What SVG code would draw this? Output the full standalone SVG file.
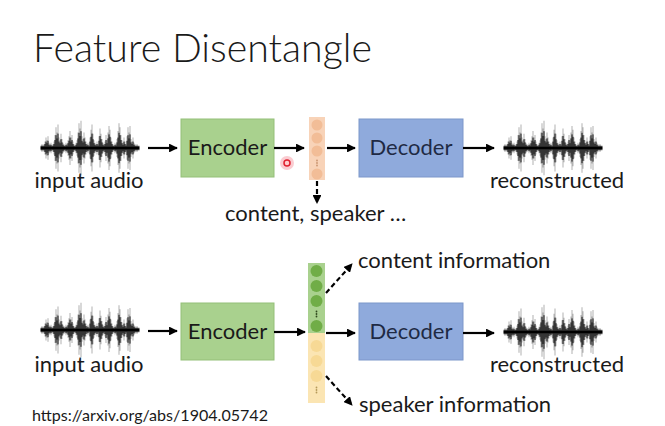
<svg xmlns="http://www.w3.org/2000/svg" xmlns:xlink="http://www.w3.org/1999/xlink" width="665" height="426" viewBox="0 0 665 426">
<style>
text{font-family:Lato,"Open Sans","Liberation Sans",sans-serif;fill:#1a1a1a}
.lbl{font-size:22px}
.title{font-size:40px;font-weight:300}
.enc rect{fill:#a9d18e;stroke:#94bf79;stroke-width:1}
.dec rect{fill:#8faadc;stroke:#7d97ca;stroke-width:1}
.dec text{fill:#1f2a44}
.ln{stroke:#000;stroke-width:2.2;fill:none}
.dash{stroke:#000;stroke-width:2.2;fill:none;stroke-dasharray:5 3}
</style>
<defs>
<marker id="ah" viewBox="0 0 10 10" refX="9" refY="5" markerWidth="4" markerHeight="4" orient="auto" markerUnits="strokeWidth">
<path d="M0,0L10,5L0,10z" fill="#000"/>
</marker>
<g id="wave">
<path d="M0-2v4M1-3v6M2-2v4M3-3v6M4-5v10M5-8v16M6-6v12M7-9v18M8-4v8M9-3v6M10-4v8M11-2v4M12-3v6M13-5v10M14-10v20M15-16v32M16-12v24M17-18v36M18-8v16M19-6v12M20-11v22M21-7v14M22-4v8M23-3v6M24-2v4M25-4v8M26-3v6M27-6v12M28-9v18M29-13v26M30-8v16M31-10v20M32-5v10M33-3v6M34-2v4M35-4v8M36-6v12M37-12v24M38-19v38M39-15v30M40-21v42M41-9v18M42-7v14M43-12v24M44-8v16M45-5v10M46-3v6M47-4v8M48-2v4M49-8v16M50-14v28M51-18v36M52-11v22M53-6v12M54-4v8M55-3v6M56-5v10M57-3v6M58-9v18M59-15v30M60-11v22M61-7v14M62-4v8M63-3v6M64-5v10M65-10v20M66-6v12M67-12v24M68-17v34M69-14v28M70-8v16M71-5v10M72-3v6M73-2v4M74-4v8M75-3v6M76-7v14M77-13v26M78-19v38M79-16v32M80-10v20M81-6v12M82-4v8M83-8v16M84-5v10M85-3v6M86-9v18M87-16v32M88-12v24M89-17v34M90-7v14M91-5v10M92-8v16M93-4v8M94-3v6M95-2v4M96-3v6M97-2v4M98-2v4" stroke="#000" stroke-width="1" transform="scale(1,1.3)" opacity="0.3"/>
<path d="M0-2v4M1-3v6M2-2v4M3-3v6M4-5v10M5-8v16M6-6v12M7-9v18M8-4v8M9-3v6M10-4v8M11-2v4M12-3v6M13-5v10M14-10v20M15-16v32M16-12v24M17-18v36M18-8v16M19-6v12M20-11v22M21-7v14M22-4v8M23-3v6M24-2v4M25-4v8M26-3v6M27-6v12M28-9v18M29-13v26M30-8v16M31-10v20M32-5v10M33-3v6M34-2v4M35-4v8M36-6v12M37-12v24M38-19v38M39-15v30M40-21v42M41-9v18M42-7v14M43-12v24M44-8v16M45-5v10M46-3v6M47-4v8M48-2v4M49-8v16M50-14v28M51-18v36M52-11v22M53-6v12M54-4v8M55-3v6M56-5v10M57-3v6M58-9v18M59-15v30M60-11v22M61-7v14M62-4v8M63-3v6M64-5v10M65-10v20M66-6v12M67-12v24M68-17v34M69-14v28M70-8v16M71-5v10M72-3v6M73-2v4M74-4v8M75-3v6M76-7v14M77-13v26M78-19v38M79-16v32M80-10v20M81-6v12M82-4v8M83-8v16M84-5v10M85-3v6M86-9v18M87-16v32M88-12v24M89-17v34M90-7v14M91-5v10M92-8v16M93-4v8M94-3v6M95-2v4M96-3v6M97-2v4M98-2v4" stroke="#000" stroke-width="1" transform="scale(1,0.8)"/>
<path d="M0 0H98" stroke="#000" stroke-width="2.5"/>
</g>
<g id="vdots"><circle cx="0" cy="-2.5" r="0.9"/><circle cx="0" cy="0" r="0.9"/><circle cx="0" cy="2.5" r="0.9"/></g>
</defs>
<rect width="665" height="426" fill="#fff"/>
<text class="title" x="33" y="62" textLength="339" lengthAdjust="spacingAndGlyphs">Feature Disentangle</text>

<!-- top row -->
<g id="wave-in-1"><use xlink:href="#wave" x="41" y="148"/><text class="lbl" x="89" y="188" text-anchor="middle">input audio</text></g>
<g id="encoder-1" class="enc"><rect x="181" y="119" width="93" height="58"/><text class="lbl" x="227.5" y="155" text-anchor="middle">Encoder</text></g>
<g id="vector-1">
<rect x="309" y="117" width="16" height="63" fill="#f8d3b8"/>
<g fill="#f2bd97"><circle cx="317" cy="125" r="5.5"/><circle cx="317" cy="138" r="5.5"/><circle cx="317" cy="151" r="5.5"/><circle cx="317" cy="174" r="5.5"/></g>
<use xlink:href="#vdots" x="317" y="163" fill="#c9946f"/>
</g>
<g id="decoder-1" class="dec"><rect x="359" y="119" width="104" height="58"/><text class="lbl" x="411" y="155" text-anchor="middle">Decoder</text></g>
<g id="wave-out-1"><use xlink:href="#wave" x="504" y="148"/><text class="lbl" x="557" y="188" text-anchor="middle">reconstructed</text></g>
<text class="lbl" x="225" y="221">content, speaker …</text>
<g id="pointer"><circle cx="287" cy="163" r="7" fill="#f58f9a" opacity="0.45"/><circle cx="287" cy="163" r="3" fill="#fcc" stroke="#e0202f" stroke-width="1.5"/></g>

<!-- bottom row -->
<g id="wave-in-2"><use xlink:href="#wave" x="41" y="330"/><text class="lbl" x="89" y="372" text-anchor="middle">input audio</text></g>
<g id="encoder-2" class="enc"><rect x="181" y="303" width="93" height="57"/><text class="lbl" x="227.5" y="339" text-anchor="middle">Encoder</text></g>
<g id="vector-2">
<rect x="308" y="263" width="17" height="70" fill="#a9d18e"/>
<rect x="308" y="333" width="17" height="70" fill="#fbe5b3"/>
<g fill="#70ad47"><circle cx="316.5" cy="271" r="6"/><circle cx="316.5" cy="286" r="6"/><circle cx="316.5" cy="301" r="6"/><circle cx="316.5" cy="326" r="6"/></g>
<use xlink:href="#vdots" x="316.5" y="314" fill="#2e4a1c"/>
<g fill="#f7d995"><circle cx="316.5" cy="346" r="6"/><circle cx="316.5" cy="361" r="6"/><circle cx="316.5" cy="376" r="6"/></g>
<use xlink:href="#vdots" x="316.5" y="390" fill="#b59a5a"/>
</g>
<g id="decoder-2" class="dec"><rect x="359" y="303" width="104" height="57"/><text class="lbl" x="411" y="339" text-anchor="middle">Decoder</text></g>
<g id="wave-out-2"><use xlink:href="#wave" x="504" y="332"/><text class="lbl" x="557" y="372" text-anchor="middle">reconstructed</text></g>
<text class="lbl" x="358" y="268">content information</text>
<text class="lbl" x="359" y="412">speaker information</text>

<g id="connectors">
<path class="ln" d="M148 148H177" marker-end="url(#ah)"/>
<path class="ln" d="M274 148H304" marker-end="url(#ah)"/>
<path class="ln" d="M327 148H355" marker-end="url(#ah)"/>
<path class="ln" d="M463 148H494" marker-end="url(#ah)"/>
<path class="dash" d="M317 181V203" marker-end="url(#ah)"/>
<path class="ln" d="M148 331H177" marker-end="url(#ah)"/>
<path class="ln" d="M274 332H305" marker-end="url(#ah)"/>
<path class="ln" d="M326 333H355" marker-end="url(#ah)"/>
<path class="ln" d="M463 333H494" marker-end="url(#ah)"/>
<path class="dash" d="M326 293L352 264" marker-end="url(#ah)"/>
<path class="dash" d="M326 376L352 405" marker-end="url(#ah)"/>
</g>
<text x="32" y="421" font-size="15" textLength="236" lengthAdjust="spacingAndGlyphs">https://arxiv.org/abs/1904.05742</text>
</svg>
